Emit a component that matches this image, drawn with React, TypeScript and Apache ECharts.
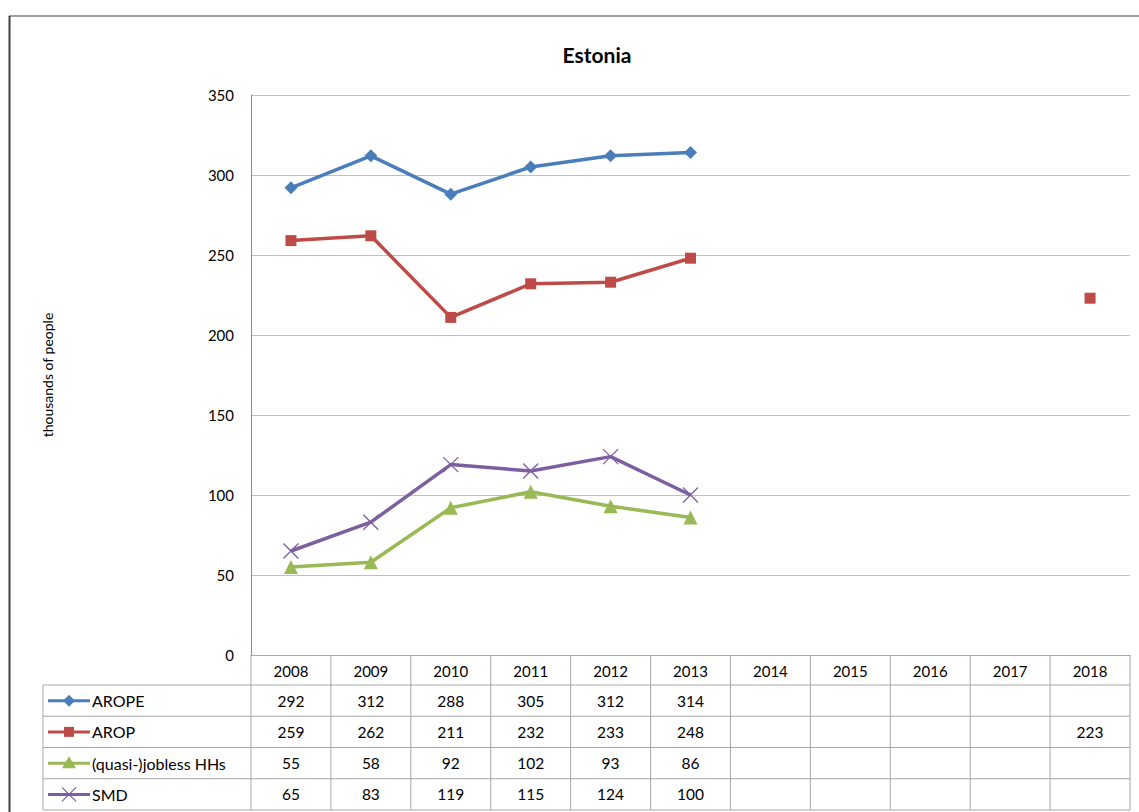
import React, { useEffect, useRef } from "react";
import * as echarts from "echarts";

const years = ["2008", "2009", "2010", "2011", "2012", "2013", "2014", "2015", "2016", "2017", "2018"];
const arope = [292, 312, 288, 305, 312, 314, null, null, null, null, null];
const arop = [259, 262, 211, 232, 233, 248, null, null, null, null, 223];
const jobless = [55, 58, 92, 102, 93, 86, null, null, null, null, null];
const smd = [65, 83, 119, 115, 124, 100, null, null, null, null, null];
const yTicks = [0, 50, 100, 150, 200, 250, 300, 350];

const seriesNames = ["AROPE", "AROP", "(quasi-)jobless HHs", "SMD"];
const seriesColors = ["#4a7ebb", "#be4b48", "#98b954", "#7d5fa0"];
const seriesData = [arope, arop, jobless, smd];

const FONT = "Lato, 'Open Sans', sans-serif";
const GRID_LEFT = 251;
const GRID_RIGHT = 9;
const GRID_TOP = 95;
const GRID_BOTTOM = 157;
const TABLE_LEFT = 43;
const HEADER_H = 30;
const ROW_H = 31.25;
const BORDER = "#a6a6a6";
const X_PATH = "path://M0,0L10,10M10,0L0,10";

export default function App() {
  const ref = useRef<HTMLDivElement>(null);
  useEffect(() => {
    const chart = echarts.init(ref.current!, null, { renderer: "svg" });
    const symbols = ["diamond", "rect", "triangle", X_PATH];
    const sizes = [13, 11, 14, 15];
    chart.setOption({
      animation: false,
      backgroundColor: "#ffffff",
      title: {
        text: "Estonia",
        left: 592,
        top: 39,
        textAlign: "center",
        textStyle: { fontFamily: FONT, fontSize: 21, fontWeight: "bold", color: "#000" },
      },
      grid: { left: GRID_LEFT, right: GRID_RIGHT, top: GRID_TOP, bottom: GRID_BOTTOM },
      xAxis: {
        type: "category",
        data: years,
        boundaryGap: true,
        axisLine: { lineStyle: { color: BORDER, width: 1 } },
        axisTick: { show: false },
        axisLabel: { fontFamily: FONT, fontSize: 15, color: "#000", margin: 8, interval: 0 },
        splitLine: { show: false },
      },
      yAxis: {
        type: "value",
        min: yTicks[0],
        max: yTicks[yTicks.length - 1],
        interval: 50,
        name: "thousands of people",
        nameLocation: "middle",
        nameGap: 197,
        nameTextStyle: { fontFamily: FONT, fontSize: 14, color: "#000" },
        axisLine: { show: true, lineStyle: { color: "#8c8c8c", width: 1 } },
        axisTick: { show: false },
        axisLabel: { fontFamily: FONT, fontSize: 15, color: "#000", margin: 17 },
        splitLine: { lineStyle: { color: "#a9c2e8", width: 1 } },
      },
      series: seriesData.map((d, i) => ({
        type: "line",
        name: seriesNames[i],
        data: d,
        symbol: symbols[i],
        symbolSize: sizes[i],
        showSymbol: true,
        showAllSymbol: true,
        connectNulls: false,
        lineStyle: { color: seriesColors[i], width: 3.5 },
        itemStyle:
          i === 3
            ? { color: "rgba(0,0,0,0)", borderColor: seriesColors[i], borderWidth: 1.3 }
            : { color: seriesColors[i], borderWidth: 0 },
        z: 3,
      })),
    });

    // Build data table from axis geometry
    const x0 = chart.convertToPixel({ xAxisIndex: 0 }, 0) as number;
    const x1 = chart.convertToPixel({ xAxisIndex: 0 }, 1) as number;
    const colW = x1 - x0;
    const plotLeft = x0 - colW / 2;
    const plotRight = plotLeft + colW * years.length;
    const axisY = chart.convertToPixel({ yAxisIndex: 0 }, 0) as number;
    const rowTop = axisY + HEADER_H;
    const tableBottom = rowTop + ROW_H * seriesNames.length;
    const lineStyle = { stroke: BORDER, lineWidth: 1 };
    const g: any[] = [];

    // outer frame
    g.push({ type: "line", shape: { x1: 9, y1: 16, x2: 1139, y2: 16 }, style: { stroke: "#7f7f7f", lineWidth: 1.5 } });
    g.push({ type: "line", shape: { x1: 9.5, y1: 16, x2: 9.5, y2: 812 }, style: { stroke: "#404040", lineWidth: 2 } });

    for (let i = 0; i <= years.length; i++) {
      const x = plotLeft + i * colW;
      g.push({ type: "line", shape: { x1: x, y1: axisY, x2: x, y2: tableBottom }, style: lineStyle });
    }
    g.push({ type: "line", shape: { x1: TABLE_LEFT, y1: rowTop, x2: TABLE_LEFT, y2: tableBottom }, style: lineStyle });
    for (let r = 0; r <= seriesNames.length; r++) {
      const y = rowTop + r * ROW_H;
      g.push({ type: "line", shape: { x1: TABLE_LEFT, y1: y, x2: plotRight, y2: y }, style: lineStyle });
    }

    seriesNames.forEach((name, r) => {
      const cy = rowTop + (r + 0.5) * ROW_H;
      const c = seriesColors[r];
      g.push({ type: "line", shape: { x1: 48, y1: cy, x2: 90, y2: cy }, style: { stroke: c, lineWidth: 3 } });
      const mx = 69;
      if (r === 0) {
        g.push({ type: "polygon", shape: { points: [[mx, cy - 6], [mx + 6, cy], [mx, cy + 6], [mx - 6, cy]] }, style: { fill: c } });
      } else if (r === 1) {
        g.push({ type: "rect", shape: { x: mx - 5, y: cy - 5, width: 10, height: 10 }, style: { fill: c } });
      } else if (r === 2) {
        g.push({ type: "polygon", shape: { points: [[mx, cy - 7], [mx + 7, cy + 5], [mx - 7, cy + 5]] }, style: { fill: c } });
      } else {
        g.push({ type: "line", shape: { x1: mx - 7, y1: cy - 7, x2: mx + 7, y2: cy + 7 }, style: { stroke: c, lineWidth: 1.3 } });
        g.push({ type: "line", shape: { x1: mx - 7, y1: cy + 7, x2: mx + 7, y2: cy - 7 }, style: { stroke: c, lineWidth: 1.3 } });
      }
      g.push({
        type: "text",
        x: 92,
        y: cy,
        style: { text: name, fontFamily: FONT, fontSize: 16, fill: "#000", textVerticalAlign: "middle", textAlign: "left" },
      });
      seriesData[r].forEach((v, i) => {
        if (v == null) return;
        g.push({
          type: "text",
          x: plotLeft + (i + 0.5) * colW,
          y: cy,
          style: { text: String(v), fontFamily: FONT, fontSize: 15.5, fill: "#000", textVerticalAlign: "middle", textAlign: "center" },
        });
      });
    });

    chart.setOption({ graphic: { elements: g } });
    return () => chart.dispose();
  }, []);
  return <div ref={ref} style={{ position: "fixed", left: 0, top: 0, width: 1139, height: 812, background: "#fff" }} />;
}
